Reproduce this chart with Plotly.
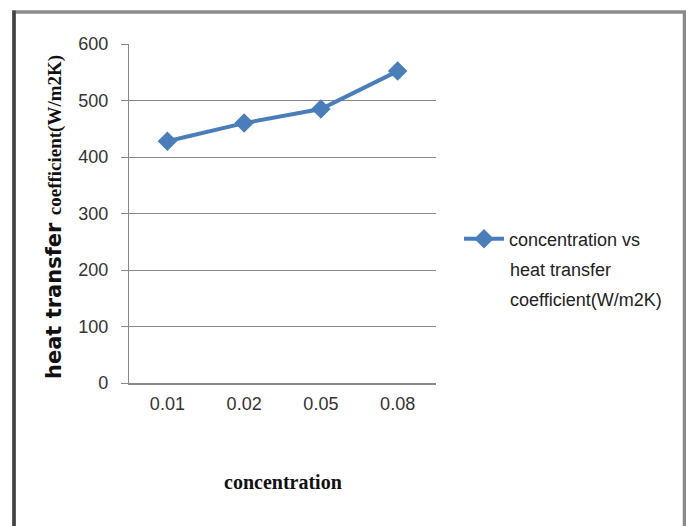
import plotly.graph_objects as go

categories = ["0.01", "0.02", "0.05", "0.08"]
htc_values = [428, 460, 485, 552]
y_ticks = [0, 100, 200, 300, 400, 500, 600]

OFF = 8  # default page body margin
W, H = 694 - OFF, 526 - OFF
L, R, T, B = 129 - OFF, 436 - OFF, 44 - OFF, 383 - OFF
pw, ph = R - L, B - T

def px(x):
    return (x - OFF - L) / pw

def py(y):
    return (B - (y - OFF)) / ph

fig = go.Figure()
fig.add_trace(go.Scatter(
    x=categories, y=htc_values, mode="lines+markers",
    name="concentration vs",
    line=dict(color="#4A7EBB", width=4),
    marker=dict(symbol="diamond", size=15, color="#4A7EBB"),
))

fig.update_layout(
    width=W, height=H,
    margin=dict(l=L, r=W - R, t=T, b=H - B),
    paper_bgcolor="white", plot_bgcolor="white",
    font=dict(family="Liberation Sans, Arial", size=18, color="#222"),
    showlegend=True,
    legend=dict(x=px(459), y=py(239), xanchor="left", yanchor="middle",
                font=dict(size=18, color="#222"), bgcolor="rgba(0,0,0,0)",
                itemwidth=40, tracegroupgap=0),
    xaxis=dict(type="category", range=[-0.5, 3.5], showgrid=False,
               showline=True, linecolor="#888", linewidth=1.5,
               ticks="", ticklabelstandoff=4,
               tickfont=dict(size=18, color="#333"), fixedrange=True),
    yaxis=dict(range=[0, 600], tickvals=y_ticks, showgrid=True,
               gridcolor="#888", gridwidth=1.2, zeroline=False,
               showline=True, linecolor="#888", linewidth=1.2,
               ticks="outside", ticklen=7, tickcolor="#888",
               ticklabelstandoff=9,
               tickfont=dict(size=18, color="#333"), fixedrange=True),
    annotations=[
        dict(text="heat transfer", xref="paper", yref="paper",
             x=px(508), y=py(270), showarrow=False, xanchor="left", yanchor="middle",
             font=dict(family="Liberation Sans, Arial", size=18, color="#222")),
        dict(text="coefficient(W/m2K)", xref="paper", yref="paper",
             x=px(508), y=py(300), showarrow=False, xanchor="left", yanchor="middle",
             font=dict(family="Liberation Sans, Arial", size=18, color="#222")),
        dict(text="<b>heat transfer </b><span style='font-family:Liberation Serif; font-size:19px'><b>coefficient(W/m2K)</b></span>",
             xref="paper", yref="paper", x=px(54), y=py(217), textangle=-90,
             showarrow=False, font=dict(family="DejaVu Sans", size=21, color="#111"),
             xanchor="center", yanchor="middle"),
        dict(text="<b>concentration</b>", xref="paper", yref="paper",
             x=px(283), y=py(482), showarrow=False,
             font=dict(family="Liberation Serif", size=20, color="#111"),
             xanchor="center", yanchor="middle"),
    ],
    shapes=[
        dict(type="rect", xref="paper", yref="paper",
             x0=px(14), x1=px(684.5), y0=py(560), y1=py(12),
             line=dict(color="#8a8a8a", width=3.5), fillcolor="rgba(0,0,0,0)", layer="below"),
        dict(type="line", xref="paper", yref="paper",
             x0=px(14), x1=px(14), y0=py(560), y1=py(10.5),
             line=dict(color="#444", width=3.5), layer="below"),
    ],
)

fig.write_html("out.html")
